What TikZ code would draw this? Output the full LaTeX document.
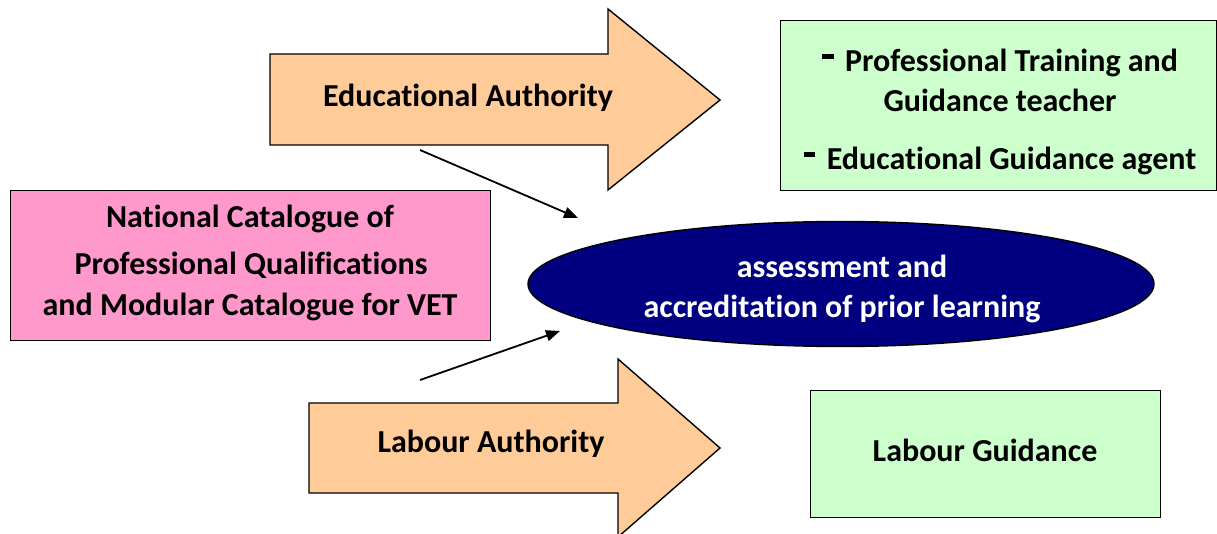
\documentclass[tikz,border=0pt]{standalone}
\usepackage{fontspec}
\setmainfont[Ligatures={NoCommon}]{Carlito}
\usetikzlibrary{arrows.meta,shapes.geometric}
\definecolor{tan}{HTML}{FFCC99}
\definecolor{pinkc}{HTML}{FF99CC}
\definecolor{greenc}{HTML}{CCFFCC}
\definecolor{navyc}{HTML}{000080}
\tikzset{
  txt/.style={font=\fontsize{32}{42}\selectfont\bfseries, align=center},
  bigarrow/.style={draw=black, fill=tan, line width=1.4pt, line join=miter},
  boxg/.style={draw=black, fill=greenc, line width=1.4pt},
  boxp/.style={draw=black, fill=pinkc, line width=1.4pt},
  link/.style={line width=1.8pt, -{Triangle[length=14pt,width=11pt]}},
}
\newcommand{\dsh}{\rule[0.4em]{0.36em}{0.15em}\hspace{0.36em}}
\begin{document}
\begin{tikzpicture}[x=1pt,y=-1pt]
\useasboundingbox (0,0) rectangle (1217,534);
\begin{scope}
\clip (0,0) rectangle (1217,534);
% top arrow
\draw[bigarrow] (270,54) -- (608,54) -- (608,9) -- (720,100) -- (608,190) -- (608,145) -- (270,145) -- cycle;
% bottom arrow
\draw[bigarrow] (309,403) -- (618,403) -- (618,359) -- (720,448) -- (618,537) -- (618,493) -- (309,493) -- cycle;
\end{scope}
\node[txt] (ea) at (468,98) {Educational Authority};
\node[txt] (la) at (491,444) {Labour Authority};

% top green box
\node[boxg, minimum width=436pt, minimum height=170pt, anchor=north west] (gb) at (780,20) {};
\node[txt, anchor=base] (gt1) at (1000,72) {\dsh Professional Training and};
\node[txt, anchor=base] (gt2) at (1000,112) {Guidance teacher};
\node[txt, anchor=base] (gt3) at (1000,170) {\dsh Educational Guidance agent};

% pink box
\node[boxp, minimum width=480pt, minimum height=150pt, anchor=north west] (pb) at (10,190) {};
\node[txt] (pt1) at (250,219) {National Catalogue of};
\node[txt] (pt2) at (251,265) {Professional Qualifications};
\node[txt] (pt3) at (250,307) {and Modular Catalogue for VET};

% ellipse
\node[ellipse, draw=black, fill=navyc, line width=1.4pt, minimum width=626pt, minimum height=125pt] (el) at (841,284) {};
\node[txt, text=white] (et1) at (842,266) {assessment and};
\node[txt, text=white] (et2) at (842,309) {accreditation of prior learning};

% bottom green box
\node[boxg, minimum width=350pt, minimum height=127pt, anchor=north west] (lg) at (810,390) {};
\node[txt] (lgt) at (985,450) {Labour Guidance};

% connectors
\coordinate (s1) at (420,150);
\coordinate (e1) at (578,218);
\coordinate (s2) at (420,380);
\coordinate (e2) at (560,331);
\draw[link] (s1) -- (e1);
\draw[link] (s2) -- (e2);
\end{tikzpicture}
\end{document}
